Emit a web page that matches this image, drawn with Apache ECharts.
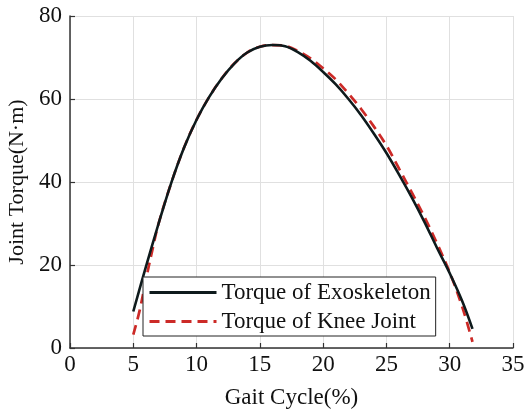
<!DOCTYPE html>
<html>
<head>
<meta charset="utf-8">
<script src="https://cdn.jsdelivr.net/npm/echarts@6/dist/echarts.min.js"></script>
<style>
  html, body { margin: 0; padding: 0; background: #ffffff; }
  #chart { width: 525px; height: 415px; }
</style>
</head>
<body>
<div id="chart"></div>
<script>
// Gait cycle positions (%) and torque values (N·m) for each curve
const exoCycle = [5, 6, 7, 8, 9, 10, 11, 12, 13, 14, 15, 16, 17, 18, 19, 20, 21, 22, 23, 24, 25, 26, 27, 28, 29, 30, 31, 31.8];
const exoTorque = [8.8, 19.6, 30, 39.8, 48.2, 55, 60.5, 65, 68.6, 71.2, 72.6, 73.0, 72.7, 71.3, 69.2, 66.5, 63.5, 60.0, 56.1, 51.7, 47.0, 41.8, 36.3, 30.4, 24.1, 18.0, 11.2, 4.6];

const kneeCycle = [5, 5.5, 6, 6.5, 7, 8, 9, 10, 11, 12, 13, 14, 15, 16, 17, 18, 19, 20, 21, 22, 23, 24, 25, 26, 27, 28, 29, 30, 31, 31.8];
const kneeTorque = [3.2, 9, 16.5, 23.5, 30, 39.8, 48.2, 55, 60.5, 65, 68.6, 71.2, 72.6, 73.0, 72.8, 71.6, 69.8, 67.4, 64.7, 61.3, 57.6, 53.4, 48.8, 43.2, 37.5, 31.6, 25.2, 18.2, 9.8, 1.5];

const seriesNames = ['Torque of Exoskeleton', 'Torque of Knee Joint'];
const xTicks = { min: 0, max: 35, step: 5 };
const yTicks = { min: 0, max: 80, step: 20 };

const serif = '"Liberation Serif", "DejaVu Serif", serif';

const pairs = (xs, ys) => xs.map((x, i) => [x, ys[i]]);

const chart = echarts.init(document.getElementById('chart'), null, { renderer: 'canvas' });

chart.setOption({
  animation: false,
  backgroundColor: '#ffffff',
  grid: { left: 70, right: 12, top: 16, bottom: 67, outerBoundsMode: 'none', containLabel: false },
  legend: {
    orient: 'vertical',
    left: 143,
    top: 277,
    backgroundColor: '#ffffff',
    borderColor: '#222222',
    borderWidth: 1,
    borderRadius: 0,
    padding: [4, 5, 3, 5],
    itemGap: 6,
    itemWidth: 67,
    itemHeight: 22,
    itemStyle: { opacity: 0 },
    lineStyle: { width: 3 },
    textStyle: { fontFamily: serif, fontSize: 23, color: '#111111' },
    data: seriesNames
  },
  xAxis: {
    type: 'value',
    min: xTicks.min,
    max: xTicks.max,
    interval: xTicks.step,
    name: 'Gait Cycle(%)',
    nameLocation: 'middle',
    nameGap: 38,
    nameTextStyle: { fontFamily: serif, fontSize: 23, color: '#111111' },
    axisLine: { show: true, lineStyle: { color: '#333333', width: 1.5 } },
    axisTick: { show: true, inside: true, length: 5, lineStyle: { color: '#333333', width: 1.2 } },
    axisLabel: { fontFamily: serif, fontSize: 23, color: '#111111', margin: 5 },
    splitLine: { show: true, lineStyle: { color: '#e0e0e0', width: 1 } }
  },
  yAxis: {
    type: 'value',
    min: yTicks.min,
    max: yTicks.max,
    interval: yTicks.step,
    name: 'Joint Torque(N·m)',
    nameLocation: 'middle',
    nameGap: 40,
    nameTextStyle: { fontFamily: serif, fontSize: 22, color: '#111111' },
    axisLine: { show: true, lineStyle: { color: '#333333', width: 1.5 } },
    axisTick: { show: true, inside: true, length: 5, lineStyle: { color: '#333333', width: 1.2 } },
    axisLabel: { fontFamily: serif, fontSize: 23, color: '#111111', margin: 8 },
    splitLine: { show: true, lineStyle: { color: '#e0e0e0', width: 1 } }
  },
  series: [
    {
      name: seriesNames[0],
      type: 'line',
      data: pairs(exoCycle, exoTorque),
      smooth: 0.35,
      symbol: 'none',
      z: 3,
      lineStyle: { color: '#0e1a1c', width: 2.6 },
      itemStyle: { color: '#0e1a1c' }
    },
    {
      name: seriesNames[1],
      type: 'line',
      data: pairs(kneeCycle, kneeTorque),
      smooth: 0.35,
      symbol: 'none',
      z: 2,
      lineStyle: { color: '#cc2a27', width: 2.7, type: [10, 6] },
      itemStyle: { color: '#cc2a27' }
    }
  ]
});
</script>
</body>
</html>
